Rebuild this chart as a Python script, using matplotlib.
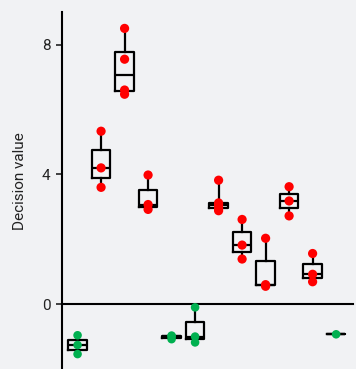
import matplotlib
matplotlib.use("Agg")
import matplotlib.pyplot as plt

# Decision values per sample (red = positive group, green = negative group)
positions = [1, 2, 3, 4, 5, 6, 7, 8, 9, 10, 11, 12]
groups = ["neg", "pos", "pos", "pos", "neg", "neg", "pos", "pos", "pos", "pos", "pos", "neg"]
values = [
    [-0.96, -1.26, -1.54],
    [5.33, 4.20, 3.60],
    [8.50, 7.55, 6.60, 6.47],
    [3.98, 3.07, 2.92],
    [-0.97, -0.99, -1.08],
    [-0.10, -1.00, -1.18],
    [3.82, 3.12, 3.05, 2.95, 2.88],
    [2.61, 1.82, 1.39],
    [2.03, 0.60, 0.55],
    [3.62, 3.18, 2.72],
    [1.56, 0.92, 0.69],
    [-0.93],
]

COLORS = {"pos": "#ff0000", "neg": "#00b050"}
BG = "#f1f2f4"

plt.rcParams["font.family"] = ["Roboto", "DejaVu Sans"]

fig = plt.figure(figsize=(3.56, 3.69), dpi=100, facecolor=BG)
ax = fig.add_axes([0.173, 0.0, 0.818, 0.967], facecolor=BG)

lw = 1.6
ax.boxplot(
    values, positions=positions, widths=0.78, whis=(0, 100),
    showcaps=False, showfliers=False, patch_artist=False,
    boxprops=dict(color="black", linewidth=lw),
    whiskerprops=dict(color="black", linewidth=lw),
    medianprops=dict(color="black", linewidth=lw),
    zorder=2,
)

for pos, grp, vals in zip(positions, groups, values):
    s = 44 if grp == "pos" else 38
    ax.scatter([pos] * len(vals), vals, s=s, color=COLORS[grp],
               edgecolors="none", zorder=4)

ax.set_xlim(0.32, 12.71)
ax.set_ylim(-2, 9)
ax.set_yticks([0, 4, 8])
ax.set_xticks([])

ax.spines["top"].set_visible(False)
ax.spines["right"].set_visible(False)
ax.spines["bottom"].set_position(("data", 0))
ax.spines["bottom"].set_linewidth(1.5)
ax.spines["left"].set_linewidth(1.5)
ax.tick_params(axis="y", length=4, width=1.2, labelsize=11, pad=4, colors="#222222")

ax.set_ylabel("Decision value", fontsize=11, color="#222222")
ax.yaxis.set_label_coords(-0.12, 0.527)

fig.savefig("out.png", dpi=100, facecolor=BG)
